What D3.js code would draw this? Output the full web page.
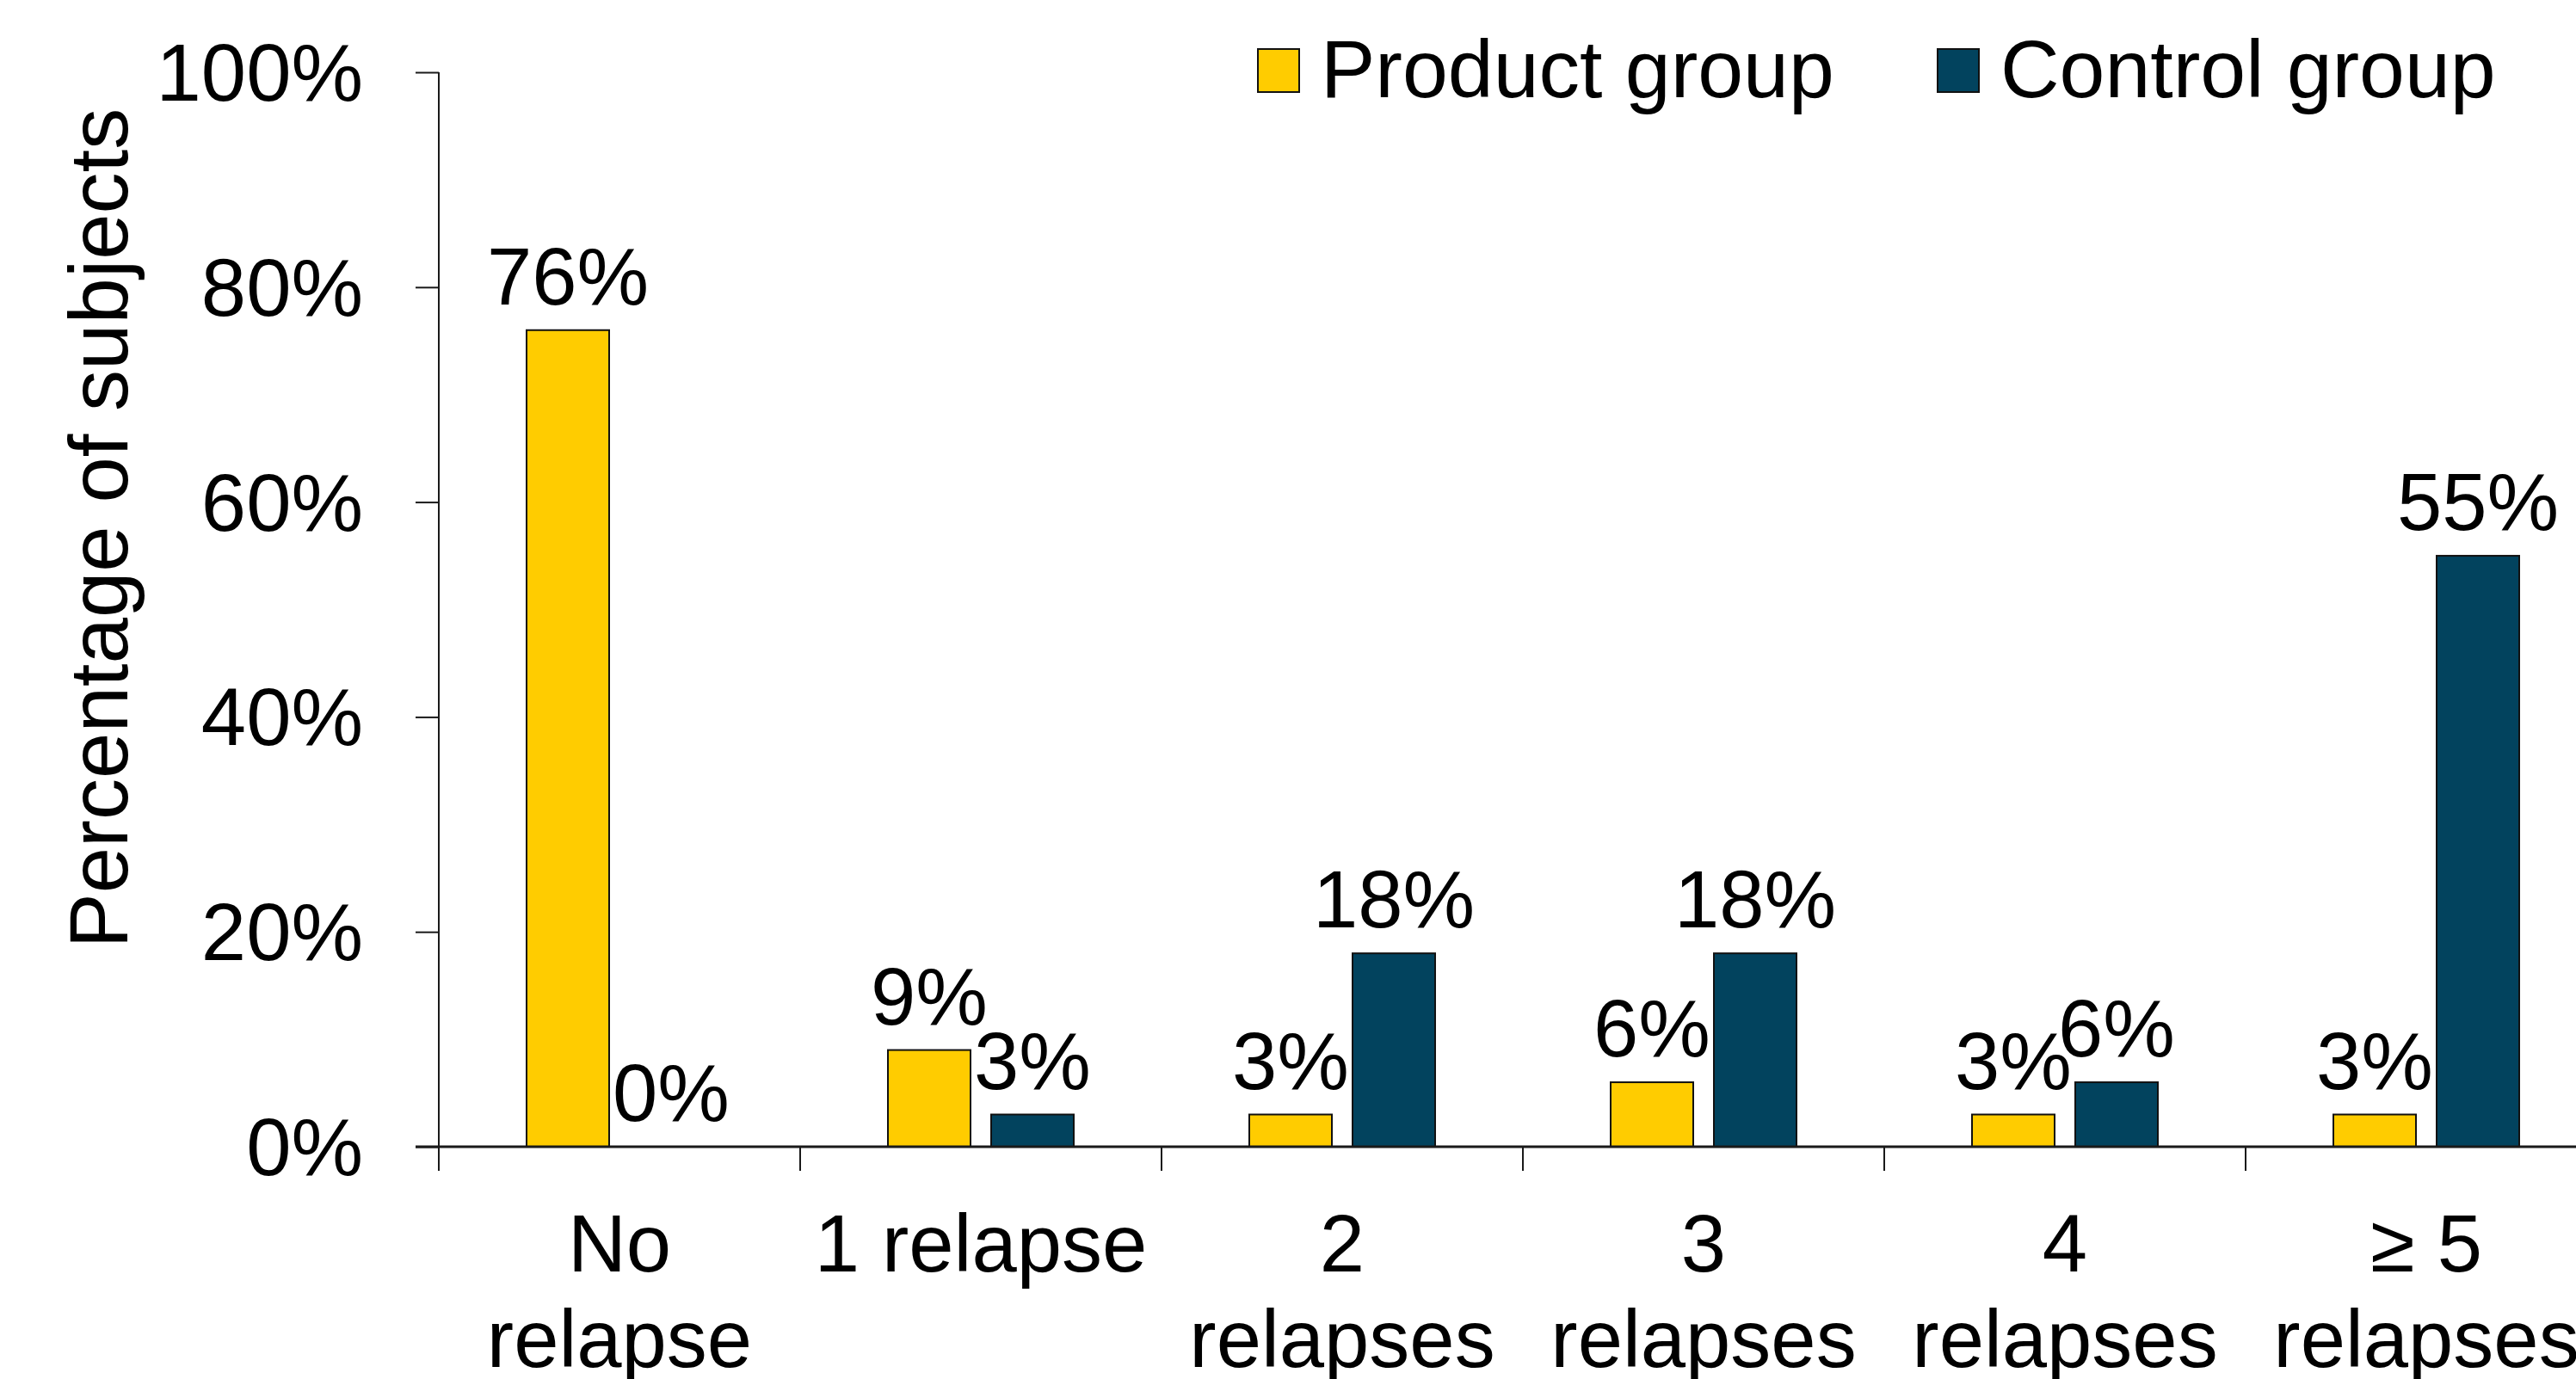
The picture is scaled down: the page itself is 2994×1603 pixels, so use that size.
<!DOCTYPE html>
<html>
<head>
<meta charset="utf-8">
<script src="https://cdn.jsdelivr.net/npm/d3@7"></script>
<style>
  html, body { margin: 0; padding: 0; background: #ffffff; }
  svg { display: block; }
  text { font-family: "Liberation Sans", Arial, sans-serif; fill: #000; }
</style>
</head>
<body>
<svg id="chart" width="2994" height="1603"></svg>
<script>
// Relapse categories (multi-line labels split on "|")
const categories = ["No|relapse", "1 relapse", "2|relapses", "3|relapses", "4|relapses", "\u2265 5|relapses"];
const seriesNames = ["Product group", "Control group"];
const productValues = [76, 9, 3, 6, 3, 3];
const controlValues = [0, 3, 18, 18, 6, 55];
const yTicks = [0, 20, 40, 60, 80, 100];
const colors = ["#FFCC00", "#02435E"];

const W = 2994, H = 1603;
const svg = d3.select("#chart");
const FS = 94;

const plotLeft = 510, plotTop = 84, plotBottom = 1333;
const bandW = 420;
const tickLen = 27;

const y = d3.scaleLinear().domain([0, 100]).range([plotBottom, plotTop]);
const x0 = d3.scaleBand()
  .domain(categories)
  .range([plotLeft, plotLeft + bandW * categories.length])
  .paddingInner(0).paddingOuter(0);
const x1 = d3.scaleBand()
  .domain(seriesNames)
  .range([-108, 108])
  .paddingInner(0.2);

const rows = categories.map((c, i) => ({
  cat: c,
  vals: [
    { name: seriesNames[0], v: productValues[i], color: colors[0] },
    { name: seriesNames[1], v: controlValues[i], color: colors[1] }
  ]
}));

// Y axis
const yAxis = d3.axisLeft(y)
  .tickValues(yTicks)
  .tickSize(tickLen)
  .tickSizeOuter(0)
  .tickPadding(0)
  .tickFormat(d => d + "%");
const gy = svg.append("g").attr("transform", `translate(${plotLeft},0)`).call(yAxis);
gy.select(".domain").remove();
gy.selectAll(".tick line").attr("stroke", "#1a1a1a").attr("stroke-width", 2);
gy.selectAll(".tick text")
  .attr("x", -(tickLen + 61))
  .attr("dy", null)
  .attr("y", 0)
  .attr("dominant-baseline", "central")
  .style("font-size", FS + "px")
  .style("font-family", '"Liberation Sans", Arial, sans-serif')
  .attr("fill", "#000");

// Vertical axis line (runs down to the category tick length)
svg.append("line")
  .attr("x1", plotLeft).attr("x2", plotLeft)
  .attr("y1", y(100)).attr("y2", plotBottom + tickLen + 1)
  .attr("stroke", "#1a1a1a").attr("stroke-width", 2);

// Category boundary ticks along the baseline
const boundaries = categories.map(c => x0(c)).concat([x0.range()[1]]);
svg.append("g").selectAll("line").data(boundaries).join("line")
  .attr("x1", d => d).attr("x2", d => d)
  .attr("y1", plotBottom).attr("y2", plotBottom + tickLen + 1)
  .attr("stroke", "#1a1a1a").attr("stroke-width", 2);

// Bars
const groups = svg.append("g").selectAll("g").data(rows).join("g")
  .attr("transform", d => `translate(${x0(d.cat) + x0.bandwidth() / 2},0)`);

groups.selectAll("rect").data(d => d.vals).join("rect")
  .attr("x", d => x1(d.name))
  .attr("width", x1.bandwidth())
  .attr("y", d => y(d.v))
  .attr("height", d => y(0) - y(d.v))
  .attr("fill", d => d.color)
  .attr("stroke", d => d.v > 0 ? "#111" : "none")
  .attr("stroke-width", 2);

// Value labels
groups.selectAll("text.val").data(d => d.vals).join("text")
  .attr("class", "val")
  .attr("x", d => x1(d.name) + x1.bandwidth() / 2)
  .attr("y", d => y(d.v) - 30)
  .attr("text-anchor", "middle")
  .style("font-size", FS + "px")
  .text(d => d.v + "%");

// Baseline (horizontal axis line)
svg.append("line")
  .attr("x1", plotLeft - tickLen).attr("x2", W)
  .attr("y1", plotBottom).attr("y2", plotBottom)
  .attr("stroke", "#1a1a1a").attr("stroke-width", 3);

// Category labels
const catG = svg.append("g").selectAll("text").data(categories).join("text")
  .attr("x", d => x0(d) + x0.bandwidth() / 2)
  .attr("y", 1478)
  .attr("text-anchor", "middle")
  .style("font-size", FS + "px");
catG.selectAll("tspan").data(d => d.split("|")).join("tspan")
  .attr("x", function() { return this.parentNode.getAttribute("x"); })
  .attr("dy", (d, i) => i === 0 ? 0 : 111)
  .text(d => d);

// Y axis title
svg.append("text")
  .attr("transform", `translate(148,${614}) rotate(-90)`)
  .attr("text-anchor", "middle")
  .style("font-size", "96px")
  .text("Percentage of subjects");

// Legend
const legendItems = [
  { name: seriesNames[0], color: colors[0], x: 1462 },
  { name: seriesNames[1], color: colors[1], x: 2252 }
];
const lg = svg.append("g").selectAll("g").data(legendItems).join("g")
  .attr("transform", d => `translate(${d.x},57)`);
lg.append("rect")
  .attr("width", 48).attr("height", 50)
  .attr("fill", d => d.color)
  .attr("stroke", "#111").attr("stroke-width", 2);
lg.append("text")
  .attr("x", 73).attr("y", 56)
  .style("font-size", "95px")
  .text(d => d.name);
</script>
</body>
</html>
